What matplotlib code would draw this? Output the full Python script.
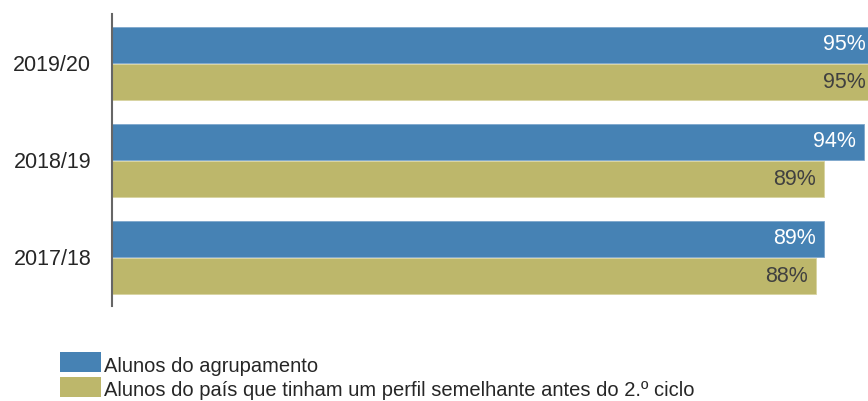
import matplotlib
matplotlib.use("Agg")
import matplotlib.pyplot as plt
from matplotlib.patches import Rectangle
import numpy as np

plt.rcParams['font.family'] = ['Liberation Sans', 'DejaVu Sans']

years = ["2017/18", "2018/19", "2019/20"]
agrupamento = [89, 94, 95]
pais = [88, 89, 95]
series_names = ["Alunos do agrupamento",
                "Alunos do país que tinham um perfil semelhante antes do 2.º ciclo"]
blue = "#4682B4"
olive = "#BDB76B"

W, H = 868, 401
fig = plt.figure(figsize=(W / 100, H / 100), dpi=100)
ax = fig.add_axes([112 / W, 1 - 306 / H, (868 - 112) / W, (306 - 14) / H])

y = np.arange(len(years))
h = 0.37
off = 0.195
b1 = ax.barh(y + off, agrupamento, height=h, color=blue, edgecolor="#7fa7cc", linewidth=0.6)
b2 = ax.barh(y - off, pais, height=h, color=olive, edgecolor="#d8d3a0", linewidth=0.6)

ax.set_xlim(0, 94.5)
ax.set_ylim(-0.5, 2.51)

for rect, v in zip(b1, agrupamento):
    x = min(v, 94.5)
    ax.annotate(f"{v}%", (x, rect.get_y() + rect.get_height() / 2),
                xytext=(-2 if v > 94.5 else -8, 0), textcoords="offset pixels",
                ha="right", va="center", color="white", fontsize=15.5)
for rect, v in zip(b2, pais):
    x = min(v, 94.5)
    ax.annotate(f"{v}%", (x, rect.get_y() + rect.get_height() / 2),
                xytext=(-2 if v > 94.5 else -8, 0), textcoords="offset pixels",
                ha="right", va="center", color="#404040", fontsize=15.5)

ax.set_yticks(y)
ax.set_yticklabels(years, fontsize=15.5, color="#262626")
ax.tick_params(axis="y", length=0, pad=15)
ax.set_xticks([])
for s in ["top", "right", "bottom"]:
    ax.spines[s].set_visible(False)
ax.spines["left"].set_color("#666666")
ax.spines["left"].set_linewidth(1.5)

# legend
for i, (name, col) in enumerate(zip(series_names, [blue, olive])):
    top = 352 + i * 25
    fig.add_artist(Rectangle((60 / W, 1 - (top + 20) / H), 41 / W, 20 / H,
                             transform=fig.transFigure, facecolor=col, edgecolor="none"))
    fig.text(104 / W, 1 - (top + 19.5) / H, name, fontsize=14.5, color="#262626",
             ha="left", va="baseline")

fig.savefig("out.png", dpi=100)
